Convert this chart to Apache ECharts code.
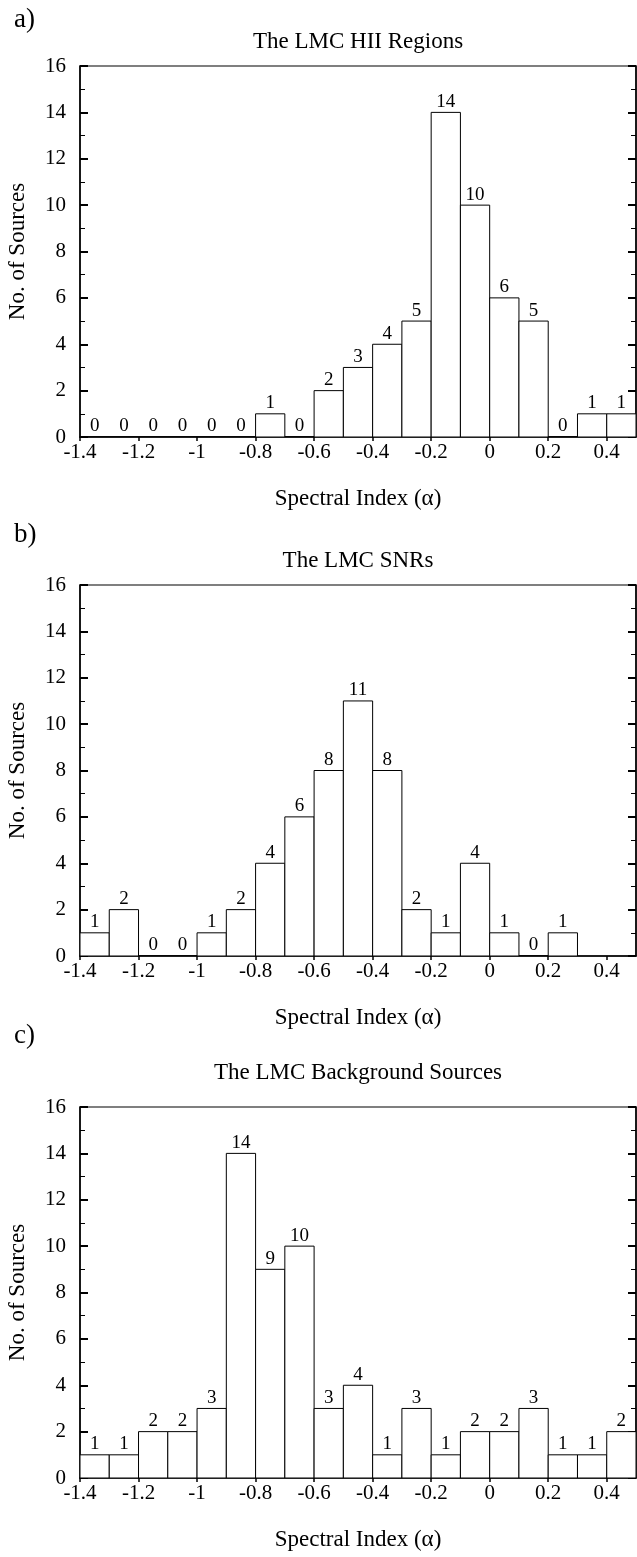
<!DOCTYPE html>
<html><head><meta charset="utf-8">
<script src="https://cdn.jsdelivr.net/npm/echarts@6/dist/echarts.min.js"></script>
<style>html,body{margin:0;padding:0;background:#fff}#c{width:637px;height:1557px}</style>
</head><body><div id="c"></div>
<script>
// ---- data ----
const binStarts = [-1.4,-1.3,-1.2,-1.1,-1.0,-0.9,-0.8,-0.7,-0.6,-0.5,-0.4,-0.3,-0.2,-0.1,0.0,0.1,0.2,0.3,0.4,0.5];
const binWidth = 0.1;
const hiiCounts = [0,0,0,0,0,0,1,0,2,3,4,5,14,10,6,5,0,1,1];
const snrCounts = [1,2,0,0,1,2,4,6,8,11,8,2,1,4,1,0,1];
const bgCounts  = [1,1,2,2,3,14,9,10,3,4,1,3,1,2,2,3,1,1,2,0];
const panelLetters = ['a)','b)','c)'];
const panelTitles = ['The LMC HII Regions','The LMC SNRs','The LMC Background Sources'];
const xAxisName = 'Spectral Index (\u03b1)';
const yAxisName = 'No. of Sources';
const xMin = -1.4, xMax = 0.5, xStep = 0.2;
const yMin = 0, yMax = 16, yStep = 2;

// ---- layout ----
const FONT = '"Liberation Serif","Times New Roman",serif';
const gridLeft = 80, gridWidth = 556, gridHeight = 371;
const gridTops = [66, 585, 1107];
const letterY = [20, 535, 1036];
const titleY = [42, 561, 1073];

function renderBar(params, api) {
  const x0 = api.value(0), x1 = api.value(1), v = api.value(2);
  const p0 = api.coord([x0, v]);
  const p1 = api.coord([x1, 0]);
  return {
    type: 'group',
    children: [
      { type: 'rect',
        shape: { x: p0[0], y: p0[1], width: p1[0] - p0[0], height: p1[1] - p0[1] },
        style: { fill: '#fff', stroke: '#000', lineWidth: 1 } },
      { type: 'text', x: (p0[0] + p1[0]) / 2, y: p0[1] - 1,
        style: { text: String(v), fill: '#000', font: '19px ' + FONT,
                 align: 'center', verticalAlign: 'bottom',
                 textAlign: 'center', textVerticalAlign: 'bottom' } }
    ]
  };
}

const grids = [], xAxes = [], yAxes = [], series = [], graphics = [];
[hiiCounts, snrCounts, bgCounts].forEach((counts, i) => {
  grids.push({ left: gridLeft, top: gridTops[i], width: gridWidth, height: gridHeight,
    show: true, borderColor: '#000', borderWidth: 1.2, backgroundColor: 'transparent',
    containLabel: false, outerBoundsMode: 'none' });
  xAxes.push({ gridIndex: i, type: 'value', min: xMin, max: xMax, interval: xStep,
    axisLine: { show: true, onZero: false, lineStyle: { color: '#000', width: 1.5 } },
    axisTick: { show: true, inside: false, length: 4, lineStyle: { color: '#000', width: 1.5 } },
    axisLabel: { margin: 5, fontSize: 21, fontFamily: FONT, color: '#000', showMaxLabel: false },
    splitLine: { show: false },
    name: xAxisName, nameLocation: 'middle', nameGap: 50,
    nameTextStyle: { fontSize: 23, fontFamily: FONT, color: '#000' } });
  const yBase = { gridIndex: i, type: 'value', min: yMin, max: yMax, interval: yStep,
    axisLine: { show: true, onZero: false, lineStyle: { color: '#000', width: 1.5 } },
    axisTick: { show: true, inside: true, length: 8, lineStyle: { color: '#000', width: 2 } },
    minorTick: { show: true, splitNumber: 2, length: 5, lineStyle: { color: '#000', width: 1 } },
    splitLine: { show: false }, minorSplitLine: { show: false } };
  yAxes.push(Object.assign({}, yBase, { position: 'left',
    axisLabel: { margin: 14, fontSize: 21, fontFamily: FONT, color: '#000' },
    name: yAxisName, nameLocation: 'middle', nameGap: 51, nameRotate: 90,
    nameTextStyle: { fontSize: 23, fontFamily: FONT, color: '#000' } }));
  yAxes.push(Object.assign({}, yBase, { position: 'right', axisLabel: { show: false } }));
  series.push({ type: 'custom', xAxisIndex: i, yAxisIndex: 2 * i, clip: true,
    renderItem: renderBar, encode: { x: [0, 1], y: 2 },
    data: counts.map((c, k) => [binStarts[k], binStarts[k] + binWidth, c]) });
  graphics.push({ type: 'text', x: 14, y: letterY[i],
    style: { text: panelLetters[i], fill: '#000', font: '27px ' + FONT,
             align: 'left', verticalAlign: 'middle', textAlign: 'left', textVerticalAlign: 'middle' } });
  graphics.push({ type: 'text', x: gridLeft + gridWidth / 2, y: titleY[i],
    style: { text: panelTitles[i], fill: '#000', font: '23px ' + FONT,
             align: 'center', verticalAlign: 'middle', textAlign: 'center', textVerticalAlign: 'middle' } });
});

const chart = echarts.init(document.getElementById('c'), null, { renderer: 'canvas' });
chart.setOption({
  animation: false,
  backgroundColor: '#fff',
  grid: grids, xAxis: xAxes, yAxis: yAxes, series: series,
  graphic: { elements: graphics }
});
</script></body></html>
